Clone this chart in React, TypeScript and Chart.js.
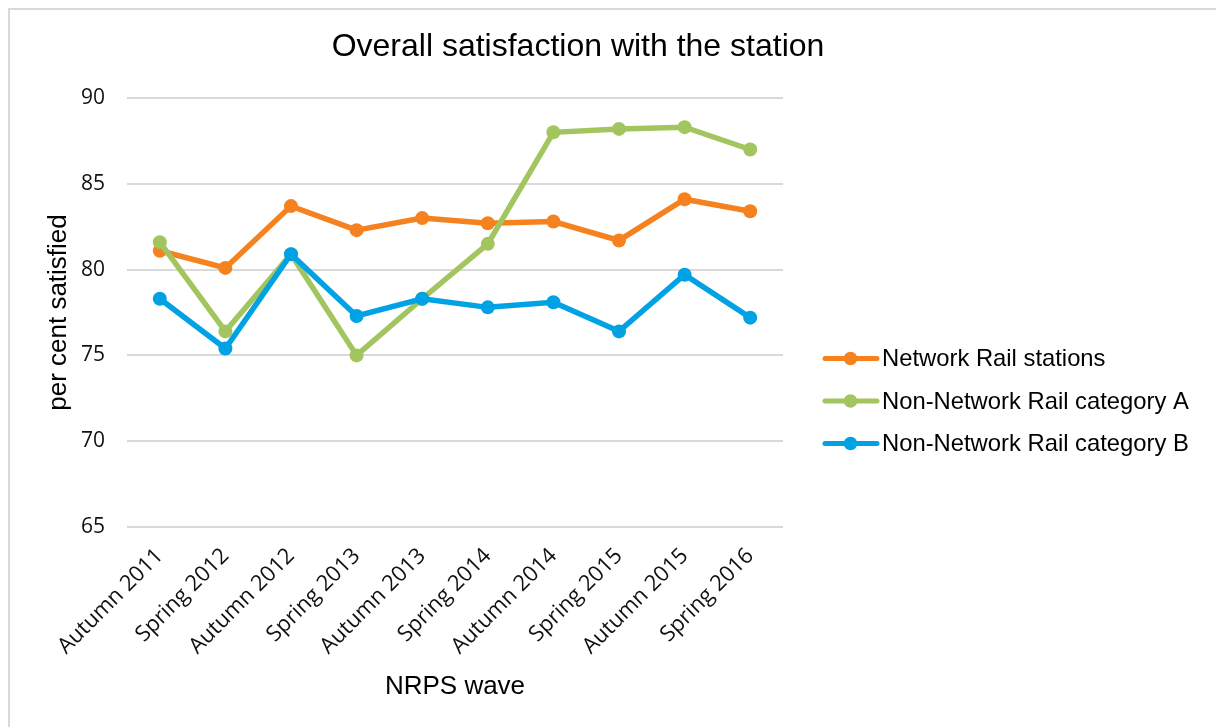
import React, { useEffect, useRef } from "react";
import { Chart, registerables } from "chart.js";

Chart.register(...registerables);

const TITLE = "Overall satisfaction with the station";
const X_TITLE = "NRPS wave";
const Y_TITLE = "per cent satisfied";

const waves = [
  "Autumn 2011",
  "Spring 2012",
  "Autumn 2012",
  "Spring 2013",
  "Autumn 2013",
  "Spring 2014",
  "Autumn 2014",
  "Spring 2015",
  "Autumn 2015",
  "Spring 2016",
];

const networkRail = [81.1, 80.1, 83.7, 82.3, 83.0, 82.7, 82.8, 81.7, 84.1, 83.4];
const nonNetworkA = [81.6, 76.4, 80.9, 75.0, 78.3, 81.5, 88.0, 88.2, 88.3, 87.0];
const nonNetworkB = [78.3, 75.4, 80.9, 77.3, 78.3, 77.8, 78.1, 76.4, 79.7, 77.2];

const seriesNames = [
  "Network Rail stations",
  "Non-Network Rail category A",
  "Non-Network Rail category B",
];
const seriesColors = ["#F5821F", "#A3C55F", "#00A2E3"];

const yMin = 65;
const yMax = 90;
const yStep = 5;

const ARIAL = '"Liberation Sans", Arial, sans-serif';
const TICKFONT = '"Open Sans", sans-serif';

const overlayPlugin = {
  id: "overlay",
  afterDraw(chart: any) {
    const ctx = chart.ctx as CanvasRenderingContext2D;
    ctx.save();
    ctx.fillStyle = "#000";
    ctx.font = `32px ${ARIAL}`;
    ctx.textAlign = "center";
    ctx.textBaseline = "alphabetic";
    ctx.fillText(TITLE, 568, 46);

    ctx.font = `23.8px ${ARIAL}`;
    ctx.textAlign = "left";
    chart.data.datasets.forEach((ds: any, i: number) => {
      const base = 356 + i * 42.5;
      const cy = base - 7.5;
      ctx.strokeStyle = ds.borderColor;
      ctx.lineWidth = 5;
      ctx.lineCap = "round";
      ctx.beginPath();
      ctx.moveTo(815, cy);
      ctx.lineTo(867, cy);
      ctx.stroke();
      ctx.fillStyle = ds.borderColor;
      ctx.beginPath();
      ctx.arc(840.5, cy, 6.8, 0, Math.PI * 2);
      ctx.fill();
      ctx.fillStyle = "#000";
      ctx.fillText(ds.label, 872, base);
    });
    ctx.restore();
  },
};

export default function App() {
  const ref = useRef<HTMLCanvasElement | null>(null);

  useEffect(() => {
    if (!ref.current) return;
    const seriesData = [networkRail, nonNetworkA, nonNetworkB];
    const chart = new Chart(ref.current, {
      type: "line",
      data: {
        labels: waves,
        datasets: seriesData.map((d, i) => ({
          label: seriesNames[i],
          data: d,
          borderColor: seriesColors[i],
          backgroundColor: seriesColors[i],
          pointBackgroundColor: seriesColors[i],
          pointBorderColor: seriesColors[i],
          borderWidth: 5.5,
          pointRadius: 7,
          pointBorderWidth: 0,
          tension: 0,
          fill: false,
          order: 3 - i,
        })),
      },
      options: {
        responsive: false,
        animation: false,
        devicePixelRatio: 1,
        layout: { padding: { left: 0, top: 88, right: 433, bottom: 0 } },
        plugins: {
          legend: { display: false },
          title: { display: false },
          tooltip: { enabled: false },
        },
        scales: {
          x: {
            offset: true,
            grid: { display: false, drawTicks: false },
            border: { display: false },
            ticks: {
              autoSkip: false,
              minRotation: 45,
              maxRotation: 45,
              padding: 16,
              color: "#111",
              font: { family: TICKFONT, size: 22 },
            },
            title: {
              display: true,
              text: X_TITLE,
              color: "#000",
              font: { family: ARIAL, size: 26 },
              padding: { top: 0, bottom: 25 },
            },
            afterFit: (scale: any) => {
              scale.height = 200;
            },
          },
          y: {
            min: yMin,
            max: yMax,
            grid: { color: "#d9d9d9", lineWidth: 2, drawTicks: false },
            border: { display: false },
            ticks: {
              stepSize: yStep,
              padding: 22,
              color: "#111",
              font: { family: TICKFONT, size: 21 },
            },
            title: {
              display: true,
              text: Y_TITLE,
              color: "#000",
              font: { family: ARIAL, size: 26 },
              padding: { top: 33, bottom: 0 },
            },
            afterFit: (scale: any) => {
              scale.width = 117;
            },
          },
        },
      },
      plugins: [overlayPlugin],
    });
    return () => chart.destroy();
  }, []);

  return (
    <div
      style={{
        position: "fixed",
        left: 8,
        top: 8,
        width: 1208,
        height: 719,
        boxSizing: "border-box",
        borderTop: "2px solid #d9d9d9",
        borderLeft: "2px solid #d9d9d9",
        background: "#fff",
        overflow: "hidden",
      }}
    >
      <canvas ref={ref} width={1206} height={717} style={{ display: "block" }} />
    </div>
  );
}
